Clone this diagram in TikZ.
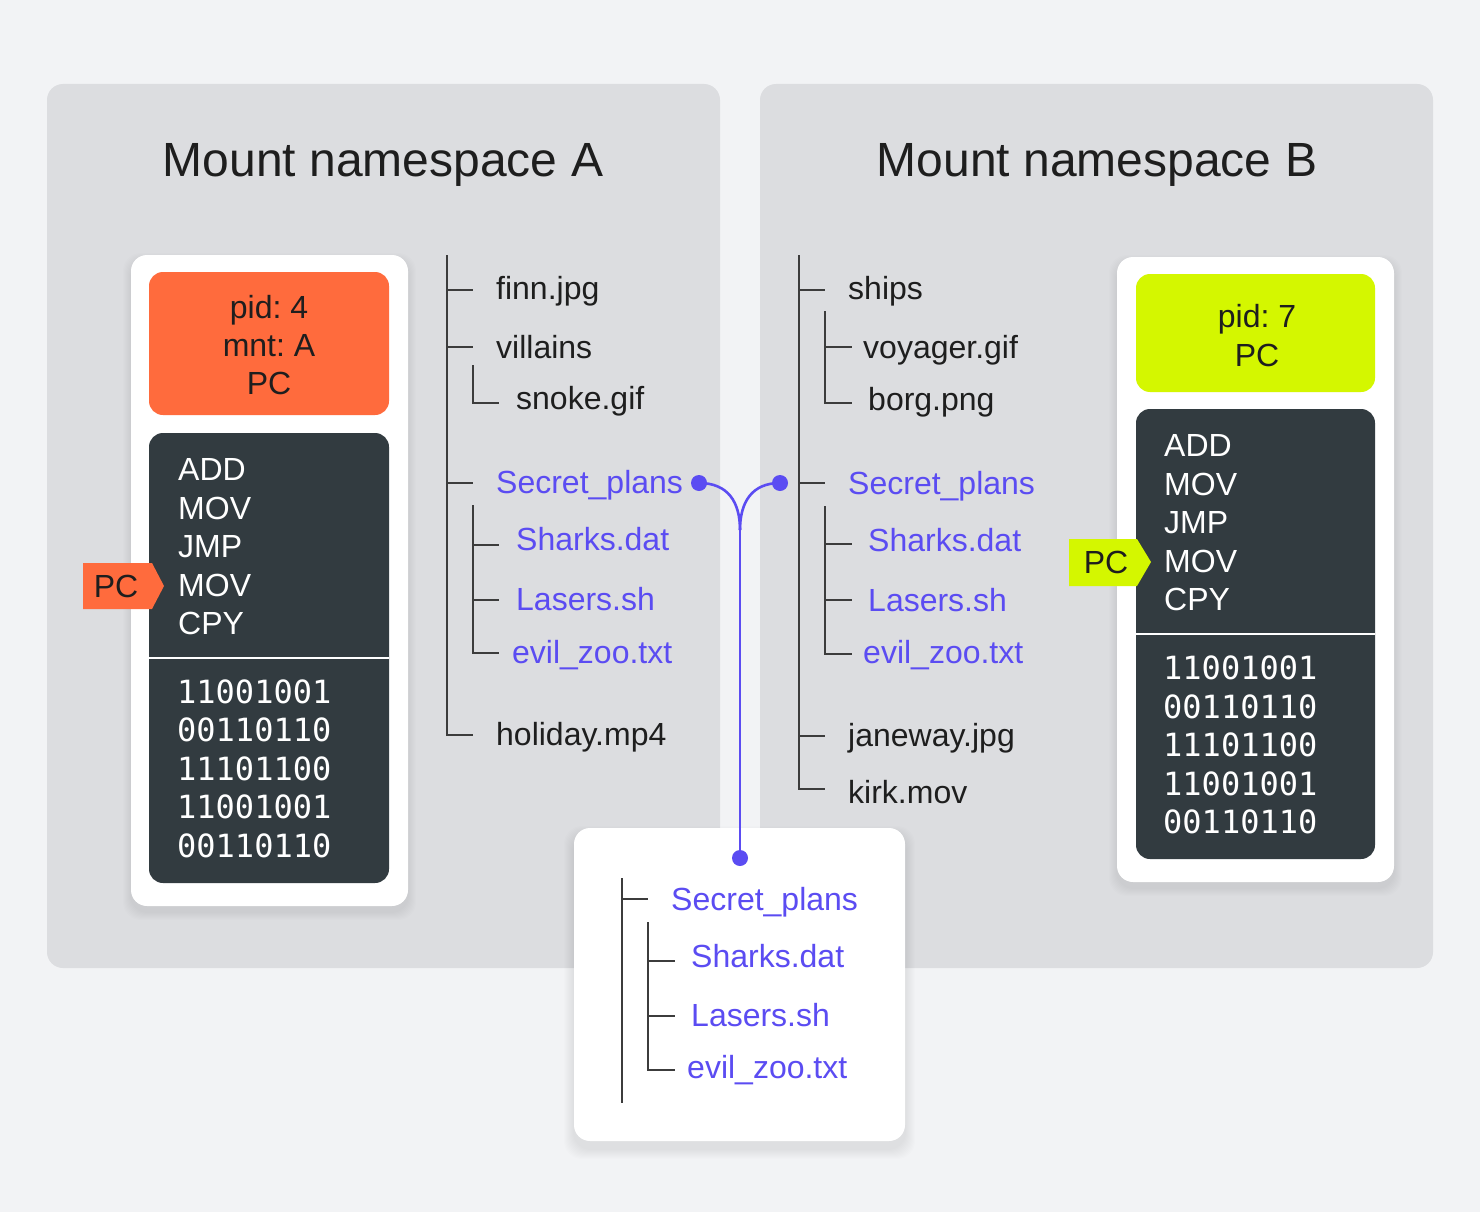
\documentclass[tikz,border=0pt]{standalone}
\usepackage{fontspec}
\setmainfont{Liberation Sans}
\newfontfamily\binfont{DejaVu Sans Mono}
\frenchspacing
\definecolor{bgc}{HTML}{F2F3F5}
\definecolor{panelc}{HTML}{DCDDE0}
\definecolor{darkc}{HTML}{323B40}
\definecolor{orangec}{HTML}{FF6B3D}
\definecolor{yellowc}{HTML}{D4F700}
\definecolor{purplec}{HTML}{5B4CF2}
\definecolor{textc}{HTML}{1E1E1E}
\definecolor{treec}{HTML}{3C3C3C}
\begin{document}
\begin{tikzpicture}[x=1pt,y=-1pt,
 lbl/.style={inner sep=0pt, anchor=west, text height=23pt, text depth=0pt, font=\fontsize{32}{38}\selectfont, text=textc},
 plbl/.style={lbl, text=purplec},
 wlbl/.style={lbl, text=white},
 blbl/.style={lbl, text=white, font=\binfont\fontsize{32}{38}\selectfont},
 clbl/.style={lbl, anchor=center},
 title/.style={inner sep=0pt, text height=34pt, text depth=0pt, font=\fontsize{48}{56}\selectfont, text=textc},
 tree/.style={draw=treec, line width=1.3pt},
 conn/.style={draw=purplec, line width=2.6pt},
 dot/.style={circle, fill=purplec, inner sep=0pt, minimum size=16pt},
 panel/.style={fill=panelc, rounded corners=16pt},
 card/.style={fill=white, rounded corners=16pt},
 innerbox/.style={rounded corners=14pt},
 shade/.style={fill=black, opacity=0.007, rounded corners=18pt},
 ]
\useasboundingbox (0,0) rectangle (1480,1212);
\fill[bgc] (0,0) rectangle (1480,1212);
% panels
\fill[panel] (47,84) rectangle (720,968);
\fill[panel] (760,84) rectangle (1433,968);
\node[title] (titleA) at (383,159) {Mount namespace A};
\node[title] (titleB) at (1097,159) {Mount namespace B};

% left process card
\foreach \r in {1,...,8} \fill[shade] (131-\r,255-\r+6) rectangle (408+\r,906+\r+6);
\fill[card] (131,255) rectangle (408,906);
\fill[orangec, innerbox] (149,272) rectangle (389,415);
\node[clbl] (pidA) at (269,307) {pid: 4};
\node[clbl] (mntA) at (269,345) {mnt: A};
\node[clbl] (pcA) at (269,383) {PC};
\fill[darkc, innerbox] (149,433) rectangle (389,883);
\draw[white, line width=2pt] (149,657.5) -- (389,657.5);
\foreach \t [count=\i from 0] in {ADD,MOV,JMP,MOV,CPY}
  \node[wlbl] (insA\i) at (178,469+38.5*\i) {\t};
\foreach \t [count=\i from 0] in {11001001,00110110,11101100,11001001,00110110}
  \node[blbl] (binA\i) at (177,691.5+38.5*\i) {\t};
\fill[orangec] (83,563) -- (152,563) -- (164,586) -- (152,609) -- (83,609) -- cycle;
\node[clbl] (tagA) at (116,586) {PC};

% right process card
\foreach \r in {1,...,8} \fill[shade] (1117-\r,257-\r+6) rectangle (1394+\r,882+\r+6);
\fill[card] (1117,257) rectangle (1394,882);
\fill[yellowc, innerbox] (1136,274) rectangle (1375,392);
\node[clbl] (pidB) at (1257,316) {pid: 7};
\node[clbl] (pcB) at (1257,355) {PC};
\fill[darkc, innerbox] (1136,409) rectangle (1375,859);
\draw[white, line width=2pt] (1136,634) -- (1375,634);
\foreach \t [count=\i from 0] in {ADD,MOV,JMP,MOV,CPY}
  \node[wlbl] (insB\i) at (1164,445+38.5*\i) {\t};
\foreach \t [count=\i from 0] in {11001001,00110110,11101100,11001001,00110110}
  \node[blbl] (binB\i) at (1163,668+38.5*\i) {\t};
\fill[yellowc] (1069,539) -- (1137,539) -- (1151,562) -- (1137,586) -- (1069,586) -- cycle;
\node[clbl] (tagB) at (1106,562) {PC};

% tree A
\draw[tree] (447,255) -- (447,735) -- (473,735);
\draw[tree] (447,290) -- (473,290);
\draw[tree] (447,347) -- (473,347);
\draw[tree] (447,483) -- (473,483);
\draw[tree] (473,365) -- (473,403) -- (499,403);
\draw[tree] (473,505) -- (473,653) -- (499,653);
\draw[tree] (473,545) -- (499,545);
\draw[tree] (473,600) -- (499,600);
\node[lbl] (finn) at (496,288) {finn.jpg};
\node[lbl] (villains) at (496,347) {villains};
\node[lbl] (snoke) at (516,398) {snoke.gif};
\node[plbl] (spA) at (496,482) {Secret\_plans};
\node[plbl] (shA) at (516,539) {Sharks.dat};
\node[plbl] (laA) at (516,599) {Lasers.sh};
\node[plbl] (ezA) at (512,652) {evil\_zoo.txt};
\node[lbl] (holiday) at (496,734) {holiday.mp4};

% tree B
\draw[tree] (799,255) -- (799,789) -- (825,789);
\draw[tree] (799,290) -- (825,290);
\draw[tree] (799,483) -- (825,483);
\draw[tree] (799,736) -- (825,736);
\draw[tree] (825,311) -- (825,403) -- (852,403);
\draw[tree] (825,347) -- (852,347);
\draw[tree] (825,506) -- (825,654) -- (852,654);
\draw[tree] (825,544) -- (852,544);
\draw[tree] (825,600) -- (852,600);
\node[lbl] (ships) at (848,288) {ships};
\node[lbl] (voyager) at (863,347) {voyager.gif};
\node[lbl] (borg) at (868,399) {borg.png};
\node[plbl] (spB) at (848,483) {Secret\_plans};
\node[plbl] (shB) at (868,540) {Sharks.dat};
\node[plbl] (laB) at (868,599.5) {Lasers.sh};
\node[plbl] (ezB) at (863,652) {evil\_zoo.txt};
\node[lbl] (janeway) at (848,735) {janeway.jpg};
\node[lbl] (kirk) at (848,792) {kirk.mov};

% shared mount card
\foreach \r in {1,...,10} \fill[shade] (574-\r,828-\r+8) rectangle (905+\r,1141+\r+8);
\fill[card] (574,828) rectangle (905,1141);
\draw[tree] (622,878) -- (622,1103);
\draw[tree] (622,899) -- (648,899);
\draw[tree] (648,922) -- (648,1070) -- (675,1070);
\draw[tree] (648,961) -- (675,961);
\draw[tree] (648,1016) -- (675,1016);
\node[plbl] (spC) at (671,899) {Secret\_plans};
\node[plbl] (shC) at (691,956) {Sharks.dat};
\node[plbl] (laC) at (691,1015) {Lasers.sh};
\node[plbl] (ezC) at (687,1067) {evil\_zoo.txt};

% connector
\coordinate (pA) at (699,483);
\coordinate (pB) at (780,483);
\coordinate (pC) at (740,858);
\coordinate (J) at (740,530);
\draw[conn] (pA) .. controls (728,483) and (740,502) .. (J);
\draw[conn] (pB) .. controls (752,483) and (740,502) .. (J);
\draw[conn] (J) -- (pC);
\node[dot] (dA) at (pA) {};
\node[dot] (dB) at (pB) {};
\node[dot] (dC) at (pC) {};
\end{tikzpicture}
\end{document}
